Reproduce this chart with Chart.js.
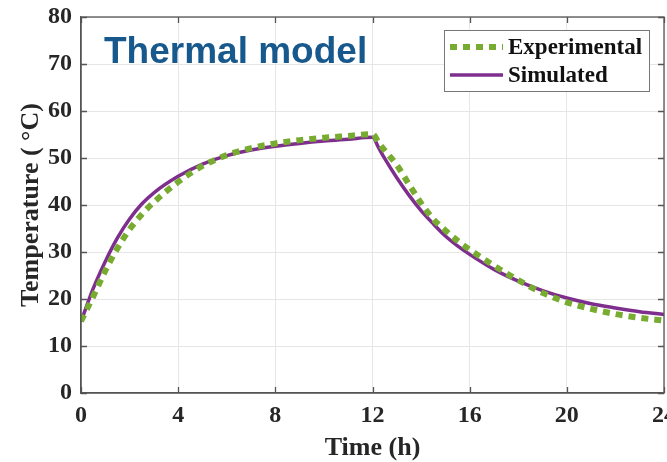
<!DOCTYPE html>
<html>
<head>
<meta charset="utf-8">
<script src="https://cdn.jsdelivr.net/npm/chart.js@4"></script>
<style>
    html, body { margin: 0; padding: 0; background: #fff; }
    #wrap { width: 667px; height: 462px; }
</style>
</head>
<body>
<div id="wrap"><canvas id="chart-thermal" width="667" height="462"></canvas></div>
<script>
// time in hours, shared by both series
const timeHours = [0, 0.5, 1, 1.5, 2, 2.5, 3, 4, 5, 6, 7, 8, 9, 10, 11, 12,
    12.25, 12.5, 13, 13.5, 14, 14.5, 15, 15.5, 16, 17, 18, 19, 20, 21, 22, 23, 24];
const tempExperimental = [15.3, 20.5, 26.0, 30.8, 34.8, 38.0, 40.6, 44.9, 48.3, 50.6, 52.1, 53.1, 53.8, 54.3, 54.7, 55.1,
    53.3, 51.6, 48.5, 44.4, 40.4, 37.0, 34.6, 32.4, 30.5, 27.1, 24.0, 21.3, 19.3, 17.9, 16.8, 16.0, 15.4];
const tempSimulated = [15.2, 22.2, 28.0, 33.0, 37.0, 40.2, 42.6, 46.1, 48.7, 50.5, 51.7, 52.5, 53.1, 53.6, 54.0, 54.4,
    52.2, 49.9, 45.8, 42.1, 38.8, 36.0, 33.4, 31.3, 29.5, 26.3, 23.8, 21.8, 20.2, 19.0, 18.1, 17.3, 16.7];
const xTicks = [0, 4, 8, 12, 16, 20, 24];
const yTicks = [0, 10, 20, 30, 40, 50, 60, 70, 80];
const seriesLabels = ['Experimental', 'Simulated'];
const chartTitle = 'Thermal model';

const GREEN = '#77ac30';
const PURPLE = '#7e2f8e';
const AXIS = '#555555';
const TEXT = '#262626';
const SERIF = "'Liberation Serif', 'Times New Roman', serif";

function points(ys) {
    return timeHours.map((t, i) => ({ x: t, y: ys[i] }));
}

// frame, inward ticks, title and legend box (MATLAB look)
const decorPlugin = {
    id: 'decor',
    afterDatasetsDraw(chart) {
        const { ctx, chartArea: a, scales } = chart;
        ctx.save();
        ctx.strokeStyle = AXIS;
        ctx.lineWidth = 1.3;
        ctx.strokeRect(a.left, a.top, a.right - a.left, a.bottom - a.top);
        ctx.beginPath();
        xTicks.forEach(v => {
            const px = Math.round(scales.x.getPixelForValue(v)) + 0.5;
            ctx.moveTo(px, a.bottom); ctx.lineTo(px, a.bottom - 6);
            ctx.moveTo(px, a.top); ctx.lineTo(px, a.top + 6);
        });
        yTicks.forEach(v => {
            const py = Math.round(scales.y.getPixelForValue(v)) + 0.5;
            ctx.moveTo(a.left, py); ctx.lineTo(a.left + 6, py);
            ctx.moveTo(a.right, py); ctx.lineTo(a.right - 6, py);
        });
        ctx.stroke();

        // title inside plot
        ctx.fillStyle = '#17598c';
        ctx.font = "bold 37px 'Liberation Sans', Arial, sans-serif";
        ctx.textBaseline = 'alphabetic';
        ctx.fillText(chartTitle, a.left + 23, a.top + 46);

        // legend
        const bx = a.right - 220, by = a.top + 13, bw = 205, bh = 61;
        ctx.fillStyle = '#fff';
        ctx.fillRect(bx, by, bw, bh);
        ctx.strokeStyle = '#777';
        ctx.lineWidth = 1;
        ctx.strokeRect(bx + 0.5, by + 0.5, bw, bh);
        chart.data.datasets.forEach((ds, i) => {
            const ly = by + 17 + i * 28;
            ctx.beginPath();
            ctx.strokeStyle = ds.borderColor;
            ctx.lineWidth = ds.borderWidth;
            ctx.setLineDash(ds.borderDash || []);
            ctx.moveTo(bx + 6, ly);
            ctx.lineTo(bx + 59, ly);
            ctx.stroke();
            ctx.setLineDash([]);
            ctx.fillStyle = '#111';
            ctx.font = 'bold 23px ' + SERIF;
            ctx.textBaseline = 'middle';
            ctx.fillText(ds.label, bx + 64, ly + 1);
        });
        ctx.restore();
    }
};

const ctx = document.getElementById('chart-thermal').getContext('2d');
new Chart(ctx, {
    type: 'line',
    data: {
        datasets: [{
            label: seriesLabels[0],
            data: points(tempExperimental),
            borderColor: GREEN,
            borderWidth: 6,
            borderDash: [7, 6],
            pointRadius: 0,
            fill: false,
            cubicInterpolationMode: 'monotone'
        }, {
            label: seriesLabels[1],
            data: points(tempSimulated),
            borderColor: PURPLE,
            borderWidth: 3.5,
            pointRadius: 0,
            fill: false,
            cubicInterpolationMode: 'monotone'
        }]
    },
    options: {
        responsive: false,
        animation: false,
        layout: { padding: { left: 0, right: 3, top: 17, bottom: 0 } },
        plugins: {
            legend: { display: false },
            tooltip: { enabled: false }
        },
        scales: {
            x: {
                type: 'linear',
                min: 0,
                max: 24,
                afterBuildTicks: s => { s.ticks = xTicks.map(v => ({ value: v })); },
                afterFit: s => { s.height = 69; s.paddingLeft = 0; s.paddingRight = 0; },
                grid: { color: '#e6e6e6', drawTicks: false },
                border: { color: AXIS, width: 1.3 },
                ticks: { padding: 8, color: TEXT, font: { family: SERIF, size: 24, weight: 'bold' }, maxRotation: 0 },
                title: {
                    display: true, text: 'Time (h)', color: TEXT,
                    font: { family: SERIF, size: 26, weight: 'bold', lineHeight: 1.0 },
                    padding: { top: 0, bottom: 1 }
                }
            },
            y: {
                min: 0,
                max: 80,
                afterBuildTicks: s => { s.ticks = yTicks.map(v => ({ value: v })); },
                afterFit: s => { s.width = 81; s.paddingTop = 0; s.paddingBottom = 0; },
                grid: { color: '#e6e6e6', drawTicks: false },
                border: { color: AXIS, width: 1.3 },
                ticks: { padding: 9, color: TEXT, font: { family: SERIF, size: 24, weight: 'bold' } },
                title: {
                    display: true, text: 'Temperature ( °C)', color: TEXT,
                    font: { family: SERIF, size: 26, weight: 'bold' },
                    padding: { top: 16, bottom: 0 }
                }
            }
        }
    },
    plugins: [decorPlugin]
});
</script>
</body>
</html>
